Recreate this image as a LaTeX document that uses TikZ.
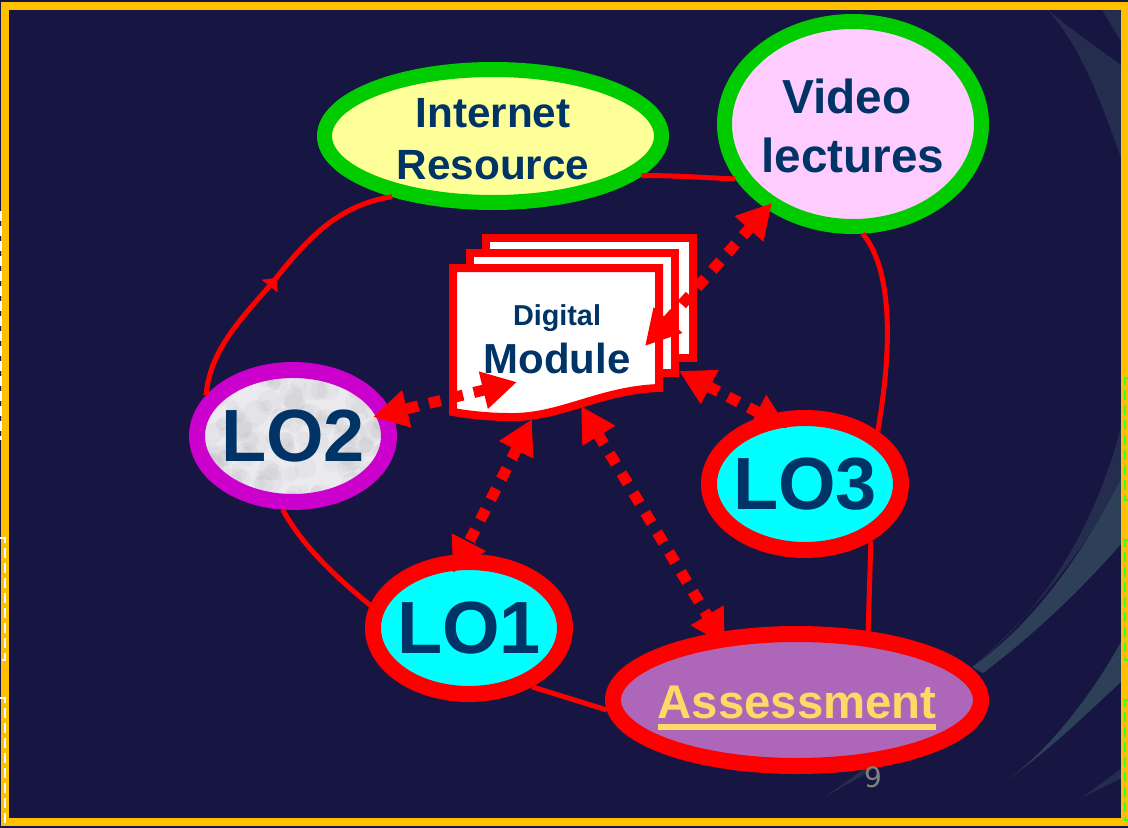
\documentclass[tikz,border=0pt]{standalone}
\usepackage{fontspec}
\setmainfont{Liberation Sans}
\newfontfamily\pagefont{DejaVu Sans}
\usetikzlibrary{arrows.meta,shapes.geometric,decorations.markings}
\definecolor{slidebg}{HTML}{171642}
\definecolor{swoosh}{HTML}{2E4057}
\definecolor{swooshdark}{HTML}{252D4F}
\definecolor{frameline}{HTML}{FFC000}
\definecolor{navytext}{HTML}{003366}
\definecolor{ringgreen}{HTML}{00CC00}
\definecolor{ringpurple}{HTML}{CC00CC}
\definecolor{ringred}{HTML}{FF0000}
\definecolor{fillyellow}{HTML}{FFFF99}
\definecolor{fillpink}{HTML}{FFCCFF}
\definecolor{fillcyan}{HTML}{00FFFF}
\definecolor{assessfill}{HTML}{AD66B8}
\definecolor{assesstext}{HTML}{FFD966}
\definecolor{marble}{HTML}{EAEAEF}
\definecolor{edgegreen}{HTML}{33FF33}
\newcommand{\px}{.75pt}
\newcommand{\ulinetext}[1]{\setbox0\hbox{#1}\rlap{#1}\smash{\rule[-8.25pt]{\wd0}{4.4pt}}}
\tikzset{
  oval/.style={draw, ellipse, inner ysep=0pt, inner xsep=-60pt, align=center, text=navytext, font=\bfseries},
  resource/.style={oval, draw=ringgreen, line width=15*\px},
  outcome/.style={oval, draw=ringred, fill=fillcyan, line width=16*\px, minimum width=192*\px, minimum height=132*\px,
    font=\fontsize{55.5}{60}\selectfont\bfseries},
  link/.style={ringred, line width=5*\px},
  access/.style={ringred, line width=11*\px, dash pattern=on 12*\px off 11*\px,
    {Triangle[length=26pt,width=27pt]}-{Triangle[length=26pt,width=27pt]}},
  sheet/.style={draw=ringred, fill=white, line width=8*\px},
  edgedash/.style={line width=2.5*\px, dash pattern=on 10*\px off 5*\px}
}
\begin{document}
\begin{tikzpicture}[x=.75pt, y=-.75pt]
    \useasboundingbox (0,0) rectangle (1128,828);
    \fill[slidebg] (0,0) rectangle (1128,828);

    \fill[swooshdark] (1046,8) .. controls (1070,30) and (1095,45) .. (1122,66) -- (1122,160) .. controls (1105,115) and (1085,50) .. (1046,8) -- cycle;
    \fill[swooshdark] (1101,8) -- (1122,8) -- (1122,43) -- cycle;
    \fill[swooshdark] (972,667) .. controls (1040,615) and (1095,530) .. (1122,423) -- (1122,480) .. controls (1090,540) and (1040,610) .. (972,667) -- cycle;
    \fill[swoosh] (972,667) .. controls (1040,620) and (1090,540) .. (1122,477) -- (1122,543) .. controls (1085,585) and (1040,630) .. (983,673) -- cycle;
    \fill[swoosh] (1008,779) .. controls (1050,750) and (1095,690) .. (1122,640) -- (1122,681) .. controls (1085,715) and (1050,750) .. (1008,779) -- cycle;
    \fill[swooshdark] (1083,797) -- (1122,768) -- (1122,778) -- cycle;
    \fill[swooshdark] (825,797) -- (868,766) -- (872,770) -- cycle;

    \draw[frameline, line width=8*\px] (5,6) rectangle (1124.5,822);
    \draw[white, edgedash] (1,211) -- (1,440);
    \foreach \ya/\yb in {538/660, 698/822} {
      \draw[white, edgedash] (0,\ya) -- (5,\ya) -- (5,\yb) -- (0,\yb);
    }
    \foreach \ya/\yb in {378/500, 540/660, 700/820} {
      \draw[edgegreen, edgedash] (1128,\ya) -- (1125,\ya) -- (1125,\yb) -- (1128,\yb);
    }

    \node[resource, fill=fillyellow, minimum width=337*\px, minimum height=133*\px,
      font=\fontsize{31.7}{39}\selectfont\bfseries] (internet) at (493,136)
      {\rule{0pt}{26pt}Internet\\Resource};
    \node[resource, fill=fillpink, minimum width=257*\px, minimum height=205*\px,
      font=\fontsize{35.8}{44}\selectfont\bfseries] (video) at (853,124) {\rule{0pt}{29pt}Video\rule{9pt}{0pt}\\lectures};
    \node[outcome, draw=ringpurple, fill=marble, path picture={
      \pgfmathsetseed{7}
      \foreach \i in {1,...,150} {
        \fill[gray, opacity=.06] ([shift={(rnd*200-100,rnd*130-65)}]path picture bounding box.center) circle[radius=4+rnd*9];
      }
    }] (lotwo) at (293,436) {LO2};
    \node[outcome] (lothree) at (805,484) {LO3};
    \node[outcome] (loone) at (469,628) {LO1};
    \node[oval, draw=ringred, fill=assessfill, text=assesstext, line width=16*\px, minimum width=368*\px, minimum height=132*\px,
      font=\fontsize{35.5}{40}\selectfont\bfseries] (assess) at (797,700) {\rule{0pt}{28.5pt}\ulinetext{Assessment}};

    \foreach \x/\y/\w in {486/238/207, 470/253/205} {
      \draw[sheet] (\x,\y) rectangle ++(\w,120);
    }
    \draw[sheet] (453,268) -- (659,268) -- (659,388) .. controls (600,390) and (560,418) .. (510,417) .. controls (490,417) and (470,415) .. (453,412) -- cycle;
    \node[align=center, text=navytext, inner sep=0pt] (module) at (557,339) {{\fontsize{21.6}{30}\selectfont\bfseries Digital}\\[7.5pt]{\fontsize{31.5}{34}\selectfont\bfseries Module}};

    \draw[link, postaction={decorate}, decoration={markings, mark=at position .49 with {\arrow{Triangle[length=8pt,width=15pt]}}}]
      (lotwo.155) .. controls (210,350) and (240,320) .. (273,282) .. controls (310,235) and (340,205) .. (internet.211);
    \draw[link] (video.205) .. controls (710,178) and (670,175) .. (internet.-15);
    \draw[link] (video.-85) .. controls (885,260) and (897,320) .. (lothree.36);
    \draw[link] (lothree.-41) -- (assess.44);
    \draw[link] (lotwo.262) .. controls (305,550) and (340,580) .. (loone.167);
    \draw[link] (loone.-43) -- (assess.183);

    \coordinate (tipvideo) at ([shift={(-81,79)}]video.center);
    \coordinate (tiplotwo) at ([shift={(80,-19)}]lotwo.center);
    \coordinate (tiplothree) at ([shift={(-17,-56)}]lothree.center);
    \coordinate (tiploone) at ([shift={(-16,-55)}]loone.center);
    \coordinate (tipassess) at ([shift={(-72,-55)}]assess.center);
    \coordinate (modvideo) at ([shift={(88,7)}]module.center);
    \coordinate (modlotwo) at ([shift={(-40,43)}]module.center);
    \coordinate (modlothree) at ([shift={(122,32)}]module.center);
    \coordinate (modloone) at ([shift={(-25,80)}]module.center);
    \coordinate (modassess) at ([shift={(24,67)}]module.center);

    \draw[access] (modvideo) -- (tipvideo);
    \draw[access] (modlotwo) -- (tiplotwo);
    \draw[access] (modlothree) -- (tiplothree);
    \draw[access] (modloone) -- (tiploone);
    \draw[access] (modassess) -- (tipassess);

    \node[text=gray, font=\pagefont\fontsize{21}{24}\selectfont] (pagenum) at (873,777) {9};
  \end{tikzpicture}
\end{document}
